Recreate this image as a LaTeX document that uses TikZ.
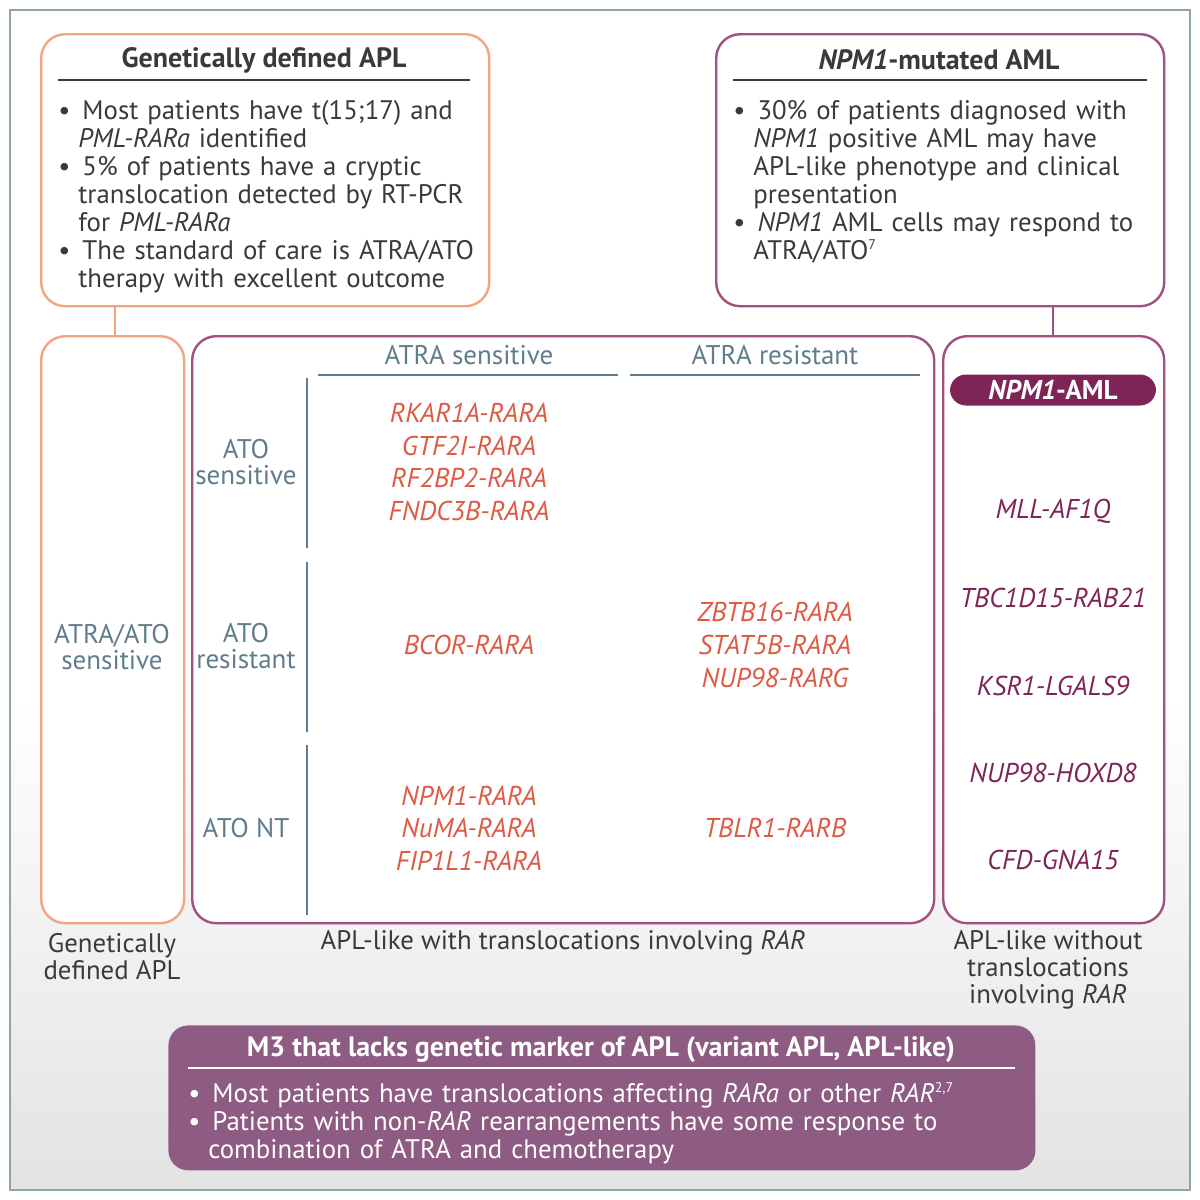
\documentclass[tikz,border=0pt]{standalone}
\usepackage{fontspec}
\setmainfont{PT Sans}
\definecolor{orng}{HTML}{F2A57E}
\definecolor{purp}{HTML}{A2507E}
\definecolor{tealg}{HTML}{607D8B}
\definecolor{redt}{HTML}{DD5A45}
\definecolor{dpur}{HTML}{7E2456}
\definecolor{bfill}{HTML}{8E5C82}
\definecolor{txt}{HTML}{3A3A3A}
\tikzset{
 bx/.style={draw=#1, line width=1.2pt, rounded corners=12pt},
 body/.style={font=\fontsize{13.4}{14}\selectfont, text=txt, align=left, anchor=north west, inner sep=0pt},
 redg/.style={font=\fontsize{13.6}{16.3}\selectfont\itshape, text=redt, align=center},
 dp/.style={font=\fontsize{13.6}{16.3}\selectfont\itshape, text=dpur, align=center},
 tg/.style={font=\fontsize{13.5}{13}\selectfont, text=tealg, align=center},
 captxt/.style={font=\fontsize{13.4}{13.5}\selectfont, text=txt, align=center},
 ttl/.style={font=\fontsize{14}{14}\selectfont\bfseries},
}
\begin{document}
\begin{tikzpicture}[x=0.5pt,y=-0.5pt]
\useasboundingbox (0,0) rectangle (1200,1200);
\fill[white] (0,0) rectangle (1200,1200);
\shade[top color=white, bottom color=gray!22] (11,700) rectangle (1189,1189);
\draw[tealg!70, line width=0.8pt] (10,10) rectangle (1190,1190);
% top boxes
\node[bx=orng, fill=white, minimum width=224pt, minimum height=136pt, anchor=north west, inner sep=0pt] (b1) at (40,33) {};
\node[ttl, text=txt] (t1) at (264,60) {Genetically defined APL};
\draw[txt, line width=0.6pt] (58,80) -- (470,80);
\node[body, text width=215pt] (c1) at (58,100) {\baselineskip=14pt
\textbullet\hspace{6pt}Most patients have t(15;17) and\\
\hspace{10pt}\textit{PML-RARa} identified\\
\textbullet\hspace{6pt}5\% of patients have a cryptic\\
\hspace{10pt}translocation detected by RT-PCR\\
\hspace{10pt}for \textit{PML-RARa}\\
\textbullet\hspace{6pt}The standard of care is ATRA/ATO\\
\hspace{10pt}therapy with excellent outcome};
\node[bx=purp, fill=white, minimum width=224pt, minimum height=136pt, anchor=north west, inner sep=0pt] (b2) at (715,33) {};
\node[ttl, text=txt] (t2) at (939,60) {\textit{NPM1}-mutated AML};
\draw[txt, line width=0.6pt] (733,80) -- (1147,80);
\node[body, text width=215pt] (c2) at (733,100) {\baselineskip=14pt
\textbullet\hspace{6pt}30\% of patients diagnosed with\\
\hspace{10pt}\textit{NPM1} positive AML may have\\
\hspace{10pt}APL-like phenotype and clinical\\
\hspace{10pt}presentation\\
\textbullet\hspace{6pt}\textit{NPM1} AML cells may respond to\\
\hspace{10pt}ATRA/ATO\textsuperscript{\scriptsize 7}};
% columns
\node[bx=orng, fill=white, minimum width=71.5pt, minimum height=293.5pt, anchor=north west, inner sep=0pt] (k1) at (40,335) {};
\node[bx=purp, fill=white, minimum width=371pt, minimum height=293.5pt, anchor=north west, inner sep=0pt] (k2) at (191,335) {};
\node[bx=purp, fill=white, minimum width=110.5pt, minimum height=293.5pt, anchor=north west, inner sep=0pt] (k3) at (942,335) {};
\coordinate (o1) at (115,305); \coordinate (o2) at (115,335);
\coordinate (p1) at (1053,305); \coordinate (p2) at (1053,335);
\draw[orng, line width=1.2pt] (o1) -- (o2);
\draw[purp, line width=1.2pt] (p1) -- (p2);
\node[tg] (as) at (112,647) {ATRA/ATO\\sensitive};
\node[tg] (h1) at (469,355) {ATRA sensitive};
\node[tg] (h2) at (775,355) {ATRA resistant};
\draw[tealg, line width=0.8pt] (318,375) -- (618,375) (630,375) -- (920,375);
\draw[tealg, line width=0.8pt] (307,378) -- (307,548) (307,562) -- (307,732) (307,745) -- (307,915);
\node[tg] (r1) at (246,462) {ATO\\sensitive};
\node[tg] (r2) at (246,646) {ATO\\resistant};
\node[tg] (r3) at (246,828) {ATO NT};
\node[redg] (g1) at (469,462) {RKAR1A-RARA\\GTF2I-RARA\\RF2BP2-RARA\\FNDC3B-RARA};
\node[redg] (g2) at (469,645) {BCOR-RARA};
\node[redg] (g3) at (775,645) {ZBTB16-RARA\\STAT5B-RARA\\NUP98-RARG};
\node[redg] (g4) at (469,828) {NPM1-RARA\\NuMA-RARA\\FIP1L1-RARA};
\node[redg] (g5) at (775,828) {TBLR1-RARB};
\node[fill=dpur, text=white, rounded corners=8pt, minimum width=103pt, minimum height=15.5pt, inner sep=0pt, font=\fontsize{13.6}{14}\selectfont\bfseries] (pill) at (1053,390) {\textit{NPM1}-AML};
\node[dp] (m1) at (1053,511) {MLL-AF1Q};
\node[dp] (m2) at (1053,598) {TBC1D15-RAB21};
\node[dp] (m3) at (1053,686) {KSR1-LGALS9};
\node[dp] (m4) at (1053,773) {NUP98-HOXD8};
\node[dp] (m5) at (1053,860) {CFD-GNA15};
\node[captxt] (cp1) at (112,957) {Genetically\\defined APL};
\node[captxt] (cp2) at (563,943) {APL-like with translocations involving \textit{RAR}};
\node[captxt] (cp3) at (1048,970) {APL-like without\\translocations\\involving \textit{RAR}};
% bottom
\node[fill=bfill, rounded corners=10pt, minimum width=433.5pt, minimum height=72.5pt, anchor=north west, inner sep=0pt] (bb) at (168,1025) {};
\node[ttl, text=white] (bt) at (601,1050) {M3 that lacks genetic marker of APL (variant APL, APL-like)};
\draw[white, line width=0.6pt] (188,1068) -- (1015,1068);
\node[body, text=white, text width=420pt] (bc) at (188,1082) {\baselineskip=14pt
\textbullet\hspace{6pt}Most patients have translocations affecting \textit{RARa} or other \textit{RAR}\textsuperscript{\scriptsize 2,7}\\
\textbullet\hspace{6pt}Patients with non-\textit{RAR} rearrangements have some response to\\
\hspace{10pt}combination of ATRA and chemotherapy};
\end{tikzpicture}
\end{document}
